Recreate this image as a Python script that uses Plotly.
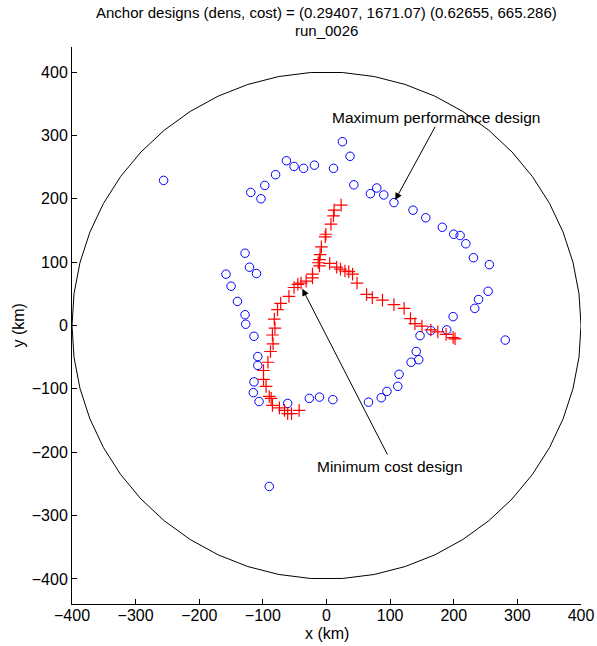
import numpy as np
import plotly.graph_objects as go

# ---- data (km) ----
blue_x = [-256, -119, -103, -97, -80, -63, -51, -36, -19, 11, 25, 37, 43, 69, 79, 90, 106,
          136, 156, 182, 200, 210, 219, 231, 256, 254, 239, 233, 199, 281, 147, 164, 189,
          141, 145, 133, 114, 112, 95, 86, 66, 10, -11, -27, -61, -106, -115, -114, -108,
          -108, -114, -127, -128, -140, -150, -158, -128, -121, -110, -90]
blue_y = [229, 210, 200, 221, 238, 260, 251, 248, 253, 248, 290, 267, 222, 208, 217, 206, 194,
          182, 170, 155, 144, 142, 129, 107, 96, 54, 41, 27, 14, -23, -16, -8, -7,
          -41, -54, -58, -77, -96, -104, -114, -121, -117, -113, -115, -123, -120, -106, -89, -63,
          -49, -17, 2, 17, 38, 62, 81, 114, 92, 82, -254]

red_x = [23, 12, 11, 7, -1, -2, -8, -10, -11, -13, -11, -22, -22, -32, -40, -45, -51, -59,
         -72, -77, -82, -81, -85, -84, -88, -92, -99, -99, -95, -90, -87, -85, -74, -66,
         -61, -55, -43,
         5, 16, 22, 29, 35, 41, 48, 63, 72, 88, 106, 122, 132, 139, 150, 164, 175, 188,
         199, 202]
red_y = [190, 182, 173, 160, 144, 140, 124, 112, 104, 99, 94, 81, 75, 70, 67, 65, 60, 46,
         35, 25, 10, -4, -15, -29, -41, -58, -71, -85, -96, -112, -115, -126, -130, -134,
         -139, -139, -134,
         98, 92, 89, 86, 85, 81, 67, 49, 44, 40, 33, 27, 11, 3, -1, -7, -10, -14,
         -19, -21]

RADIUS = 400
tick_vals = [-400, -300, -200, -100, 0, 100, 200, 300, 400]

title_line1 = "Anchor designs (dens, cost) = (0.29407, 1671.07) (0.62655, 665.286)"
title_line2 = "run_0026"
x_label = "x (km)"
y_label = "y (km)"

theta = np.linspace(0, 2 * np.pi, 51)
cx = RADIUS * np.cos(theta)
cy = RADIUS * np.sin(theta)

FONT = "Liberation Sans, Arial, sans-serif"

fig = go.Figure()
fig.add_trace(go.Scatter(x=cx, y=cy, mode="lines",
                         line=dict(color="black", width=1), hoverinfo="skip"))
fig.add_trace(go.Scatter(x=blue_x, y=blue_y, mode="markers",
                         marker=dict(symbol="circle-open", size=8.5, color="#0000ff",
                                     line=dict(width=1, color="#0000ff"))))
fig.add_trace(go.Scatter(x=red_x, y=red_y, mode="markers",
                         marker=dict(symbol="cross-thin-open", size=9, color="#ff0000",
                                     line=dict(width=1.2, color="#ff0000"))))

ann_font = dict(family=FONT, size=15.5, color="black")
fig.add_annotation(x=108, y=198, ax=172, ay=316, xref="x", yref="y", axref="x", ayref="y",
                   text="", showarrow=True, arrowhead=2, arrowsize=1.4, arrowwidth=1,
                   arrowcolor="black")
fig.add_annotation(x=172, y=329, xref="x", yref="y", text="Maximum performance design",
                   showarrow=False, font=ann_font)
fig.add_annotation(x=-38, y=58, ax=97, ay=-206, xref="x", yref="y", axref="x", ayref="y",
                   text="", showarrow=True, arrowhead=2, arrowsize=1.4, arrowwidth=1,
                   arrowcolor="black")
fig.add_annotation(x=100, y=-222, xref="x", yref="y", text="Minimum cost design",
                   showarrow=False, font=ann_font)

title_font = dict(family=FONT, size=15, color="black")
fig.add_annotation(x=0.5, y=1, xref="paper", yref="paper", yshift=35, yanchor="middle",
                   text=title_line1, showarrow=False, font=title_font)
fig.add_annotation(x=0.5, y=1, xref="paper", yref="paper", yshift=17, yanchor="middle",
                   text=title_line2, showarrow=False, font=title_font)

label_font = dict(family=FONT, size=16, color="black")
fig.add_annotation(x=0.5, y=0, xref="paper", yref="paper", yshift=-29, yanchor="middle",
                   text=x_label, showarrow=False, font=label_font)
fig.add_annotation(x=0, y=0.5, xref="paper", yref="paper", xshift=-54, xanchor="center",
                   yanchor="middle", textangle=-90,
                   text=y_label, showarrow=False, font=label_font)

axis_common = dict(showline=True, linecolor="black", linewidth=1, mirror=False,
                   ticks="inside", ticklen=5, tickcolor="black", showgrid=False,
                   zeroline=False, tickvals=tick_vals, automargin=False,
                   tickfont=dict(family=FONT, size=16, color="black"))

fig.update_layout(
    width=597, height=646,
    margin=dict(l=72, r=16, t=47, b=42, autoexpand=False),
    plot_bgcolor="white", paper_bgcolor="white",
    showlegend=False,
    xaxis=dict(range=[-400, 400], ticklabelstandoff=-3, **axis_common),
    yaxis=dict(range=[-439.5, 439.5], **axis_common),
)

fig.write_html("out.html")
